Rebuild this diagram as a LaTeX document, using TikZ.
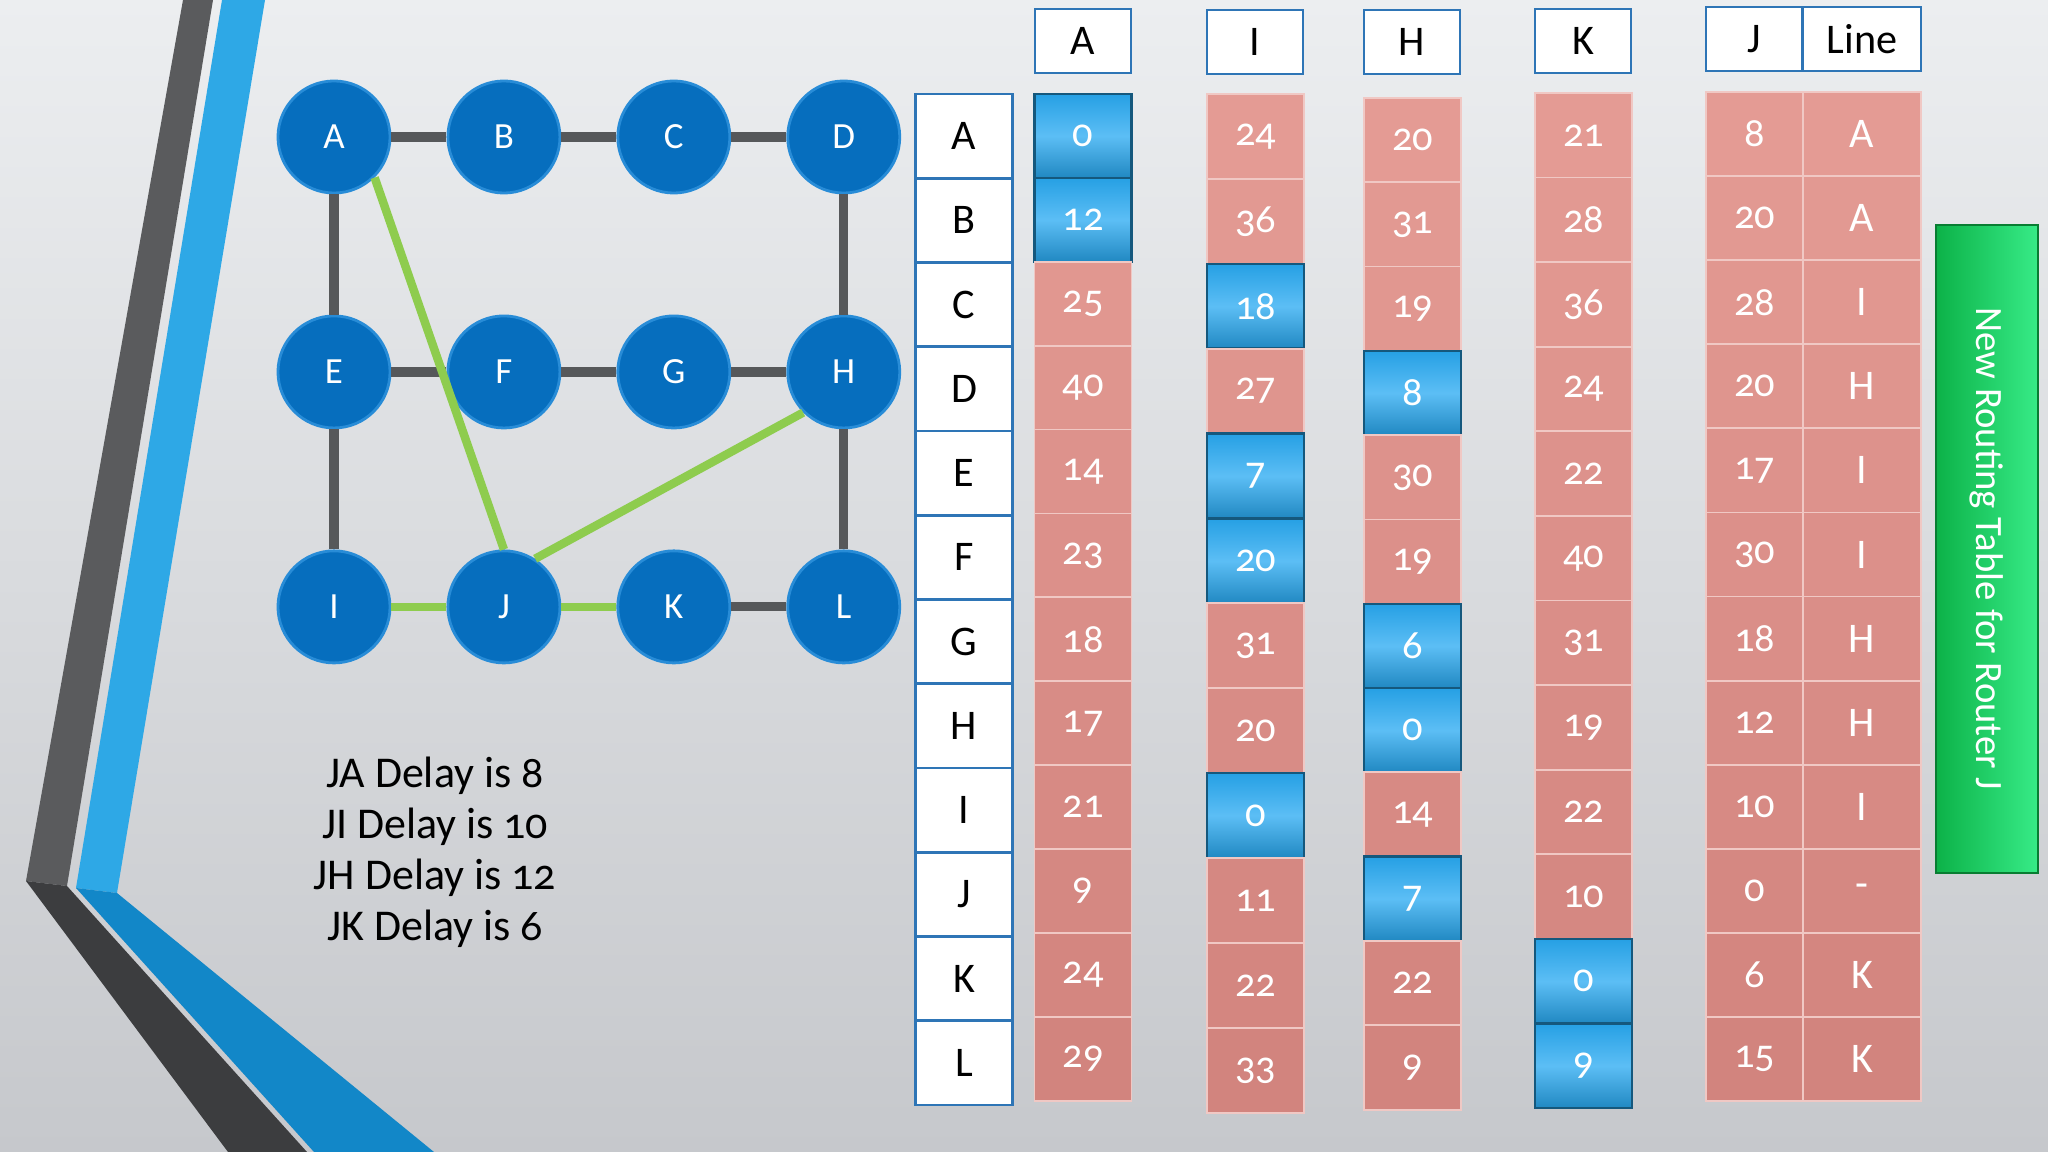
\documentclass[tikz,border=0pt]{standalone}
\usepackage{fontspec}
\setmainfont{Carlito}[Numbers=OldStyle]
\usetikzlibrary{positioning}

\definecolor{slidetop}{RGB}{236,238,240}
\definecolor{slidebot}{RGB}{198,200,204}
\definecolor{routerblue}{RGB}{6,110,190}
\definecolor{routerrim}{RGB}{40,140,215}
\definecolor{linkgray}{RGB}{86,88,90}
\definecolor{pathgreen}{RGB}{142,204,78}
\definecolor{cellred}{RGB}{228,155,148}
\definecolor{cellredlow}{RGB}{210,132,126}
\definecolor{cellblue}{RGB}{38,160,228}
\definecolor{cellbluelight}{RGB}{92,190,245}
\definecolor{frameblue}{RGB}{46,117,182}
\definecolor{stripedark}{RGB}{90,91,93}
\definecolor{stripedarklow}{RGB}{60,61,63}
\definecolor{stripeblue}{RGB}{46,168,230}
\definecolor{stripebluelow}{RGB}{18,135,200}
\definecolor{boxgreen}{RGB}{12,178,72}
\definecolor{boxgreenlight}{RGB}{55,235,135}

\begin{document}
\begin{tikzpicture}[
    x=0.01cm,y=-0.01cm,
    router/.style={circle,fill=routerblue,draw=routerrim,line width=0.8pt,minimum size=1.12cm,inner sep=0pt,text=white,font=\fontsize{10.5}{12}\selectfont},
    link/.style={linkgray,line width=2.6pt},
    best/.style={pathgreen,line width=2.4pt},
    hdr/.style={draw=frameblue,line width=0.8pt,fill=white,minimum width=0.96cm,minimum height=0.64cm,inner sep=0pt,font=\fontsize{12}{14}\selectfont},
    rowlbl/.style={draw=frameblue,line width=0.8pt,fill=white,minimum width=0.97cm,minimum height=0.8425cm,inner sep=0pt,font=\fontsize{12}{14}\selectfont},
    cell/.style={minimum width=0.97cm,inner sep=0pt,text=white,font=\fontsize{11.5}{13}\selectfont},
    cost/.style={cell,fill=cellred!\pc!cellredlow,draw=cellred!55!white,line width=0.5pt},
    low/.style={cell,top color=cellblue,bottom color=cellblue!85!black,middle color=cellbluelight,draw=cellblue!55!black,line width=0.7pt}
  ]
  \useasboundingbox (0,0) rectangle (2048,1152);
  \fill[top color=slidetop,bottom color=slidebot] (0,0) rectangle (2048,1152);

  % side stripes
  \fill[stripedark] (183,0) -- (213,0) -- (67,886) -- (26,881) -- cycle;
  \fill[stripedarklow] (26,881) -- (67,886) -- (307,1152) -- (228,1152) -- cycle;
  \fill[stripeblue] (222,0) -- (265,0) -- (117,893) -- (76,888) -- cycle;
  \fill[stripebluelow] (76,888) -- (117,893) -- (434,1152) -- (314,1152) -- cycle;

  % network
  \node[router] (A) at (334,137) {A};
  \node[router,right=0.55cm of A] (B) {B};
  \node[router,right=0.55cm of B] (C) {C};
  \node[router,right=0.55cm of C] (D) {D};
  \node[router,below=1.20cm of A] (E) {E};
  \node[router,right=0.55cm of E] (F) {F};
  \node[router,right=0.55cm of F] (G) {G};
  \node[router,right=0.55cm of G] (H) {H};
  \node[router,below=1.20cm of E] (I) {I};
  \node[router,right=0.55cm of I] (J) {J};
  \node[router,right=0.55cm of J] (K) {K};
  \node[router,right=0.55cm of K] (L) {L};

  \draw[link] (A) -- (B);
  \draw[link] (B) -- (C);
  \draw[link] (C) -- (D);
  \draw[link] (A) -- (E);
  \draw[link] (D) -- (H);
  \draw[link] (E) -- (F);
  \draw[link] (F) -- (G);
  \draw[link] (G) -- (H);
  \draw[link] (E) -- (I);
  \draw[link] (H) -- (L);
  \draw[link] (K) -- (L);
  \draw[best] (A.south east) -- (J.north);
  \draw[best] (J.57) -- (H.south west);
  \draw[best] (I) -- (J);
  \draw[best] (J) -- (K);

  \node[align=center,font=\fontsize{12.5}{14.5}\selectfont] (delays) at (435,852)
    {JA Delay is 8\\JI Delay is 10\\JH Delay is 12\\JK Delay is 6};

  % table heads
  \node[hdr] (hA) at (1083,41) {A};
  \node[hdr] (hI) at (1255,42) {I};
  \node[hdr] (hH) at (1412,42) {H};
  \node[hdr] (hK) at (1583,41) {K};
  \node[hdr] (hJ) at (1754,39) {J};
  \node[hdr,minimum width=1.18cm] (hLine) at (1862,39) {Line};

  \foreach \r [count=\i] in {A,B,C,D,E,F,G,H,I,J,K,L}
    \node[rowlbl] (row\r) at ({964},{94+84.25*\i-42.1}) {\r};

  % delays from A
  \foreach \v/\s [count=\i] in {0/low,12/low,25/cost,40/cost,14/cost,23/cost,18/cost,17/cost,21/cost,9/cost,24/cost,29/cost}{
    \pgfmathtruncatemacro{\pc}{108-9*\i}
    \node[\s,minimum height=0.839cm] (a-\i) at ({1083},{94+83.9*\i-41.95}) {\v};
  }
  % delays from I
  \foreach \v/\s [count=\i] in {24/cost,36/cost,18/low,27/cost,7/low,20/low,31/cost,20/cost,0/low,11/cost,22/cost,33/cost}{
    \pgfmathtruncatemacro{\pc}{108-9*\i}
    \node[\s,minimum height=0.849cm] (i-\i) at ({1255.5},{94+84.9*\i-42.45}) {\v};
  }
  % delays from H
  \foreach \v/\s [count=\i] in {20/cost,31/cost,19/cost,8/low,30/cost,19/cost,6/low,0/low,14/cost,7/low,22/cost,9/cost}{
    \pgfmathtruncatemacro{\pc}{108-9*\i}
    \node[\s,minimum height=0.843cm] (h-\i) at ({1412.5},{98+84.3*\i-42.15}) {\v};
  }
  % delays from K
  \foreach \v/\s [count=\i] in {21/cost,28/cost,36/cost,24/cost,22/cost,40/cost,31/cost,19/cost,22/cost,10/cost,0/low,9/low}{
    \pgfmathtruncatemacro{\pc}{108-9*\i}
    \node[\s,minimum height=0.846cm] (k-\i) at ({1583.5},{93+84.6*\i-42.3}) {\v};
  }
  % new table for J
  \foreach \v/\w [count=\i] in {8/A,20/A,28/I,20/H,17/I,30/I,18/H,12/H,10/I,0/-,6/K,15/K}{
    \pgfmathtruncatemacro{\pc}{108-9*\i}
    \node[cost,minimum height=0.841cm] (j-\i) at ({1754.5},{92+84.1*\i-42.05}) {\v};
    \node[cost,minimum width=1.18cm,minimum height=0.841cm,font=\fontsize{12}{14}\selectfont] (line-\i) at ({1862},{92+84.1*\i-42.05}) {\w};
  }

  \node[draw=boxgreen!70!black,line width=0.6pt,left color=boxgreen,right color=boxgreenlight,minimum width=1.02cm,minimum height=6.48cm,inner sep=0pt,text=white,font=\fontsize{11}{13}\selectfont] (newtab) at (1987,549) {\rotatebox{-90}{New Routing Table for Router J}};
\end{tikzpicture}
\end{document}
